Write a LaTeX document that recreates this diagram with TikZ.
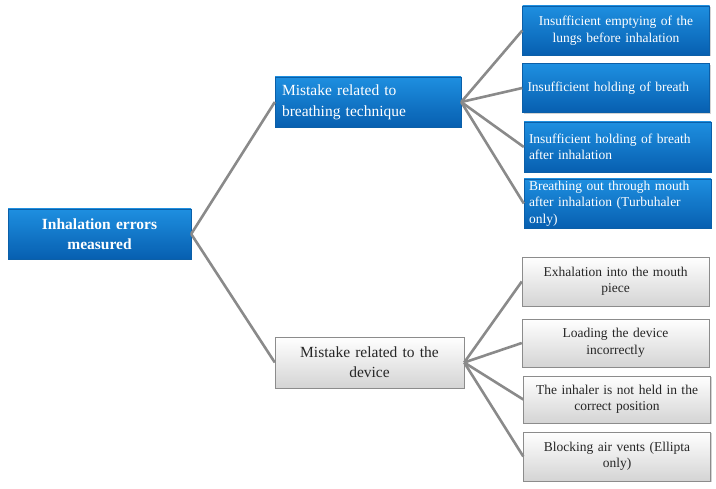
\documentclass[tikz,border=0pt]{standalone}
\usepackage{fontspec}
\setmainfont{Liberation Serif}
\usetikzlibrary{shadows}
\definecolor{bluetop}{HTML}{1E8FE0}
\definecolor{bluebot}{HTML}{075FB0}
\definecolor{blueedge}{HTML}{0B5FA8}
\definecolor{greybot}{HTML}{D4D4D4}
\definecolor{greyedge}{HTML}{8C8C8C}
\definecolor{linkgrey}{HTML}{8A8A8A}

\begin{document}
\begin{tikzpicture}[x=1pt,y=-1pt,
  box/.style={rectangle, inner ysep=2pt, inner xsep=5pt, minimum height=49pt,
    text width=177pt,
    drop shadow={shadow xshift=1pt,shadow yshift=-1.5pt,opacity=.35},
    font=\fontsize{13.5}{16.5}\selectfont},
  bluebox/.style={box, draw=blueedge, top color=bluetop, bottom color=bluebot, text=white},
  greybox/.style={box, draw=greyedge, top color=white, bottom color=greybot, text=black!85, align=center},
  link/.style={draw=linkgrey, line width=2.6pt}]
\useasboundingbox (0,0) rectangle (716,489);

% left and middle column
\node[bluebox, text width=173pt, minimum height=50pt, align=center,
  font=\fontsize{15.5}{19.5}\selectfont\bfseries] (root) at (99.5,234) {Inhalation errors\\measured};
\node[bluebox, text width=172pt, inner xsep=7pt, minimum height=50pt, align=left,
  font=\fontsize{15.5}{21}\selectfont] (tech) at (368,102) {Mistake related to\\breathing technique};
\node[greybox, text width=179pt, minimum height=51pt,
  font=\fontsize{15.5}{20}\selectfont] (dev) at (369.5,362.5) {Mistake related to the\\device};

% breathing technique
\node[bluebox, align=center] (t1) at (616,30.5) {Insufficient emptying of the\\lungs before inhalation};
\node[bluebox, align=left] (t2) at (616,88) {Insufficient holding of breath};
\node[bluebox, align=left, minimum height=50pt] (t3) at (617.5,147) {Insufficient holding of breath\\after inhalation};
\node[bluebox, align=left, inner ysep=0pt, font=\fontsize{13.5}{16.5}\selectfont] (t4) at (617.5,203.5) {Breathing out through mouth\\after inhalation (Turbuhaler\\only)};

% device
\node[greybox] (d1) at (615.5,281.5) {Exhalation into the mouth\\piece};
\node[greybox, minimum height=48pt] (d2) at (615.5,343) {Loading the device\\incorrectly};
\node[greybox, minimum height=47pt] (d3) at (617,399.5) {The inhaler is not held in the\\correct position};
\node[greybox] (d4) at (617,456.5) {Blocking air vents (Ellipta\\only)};

\draw[link] (root.east) -- (tech.west);
\draw[link] (root.east) -- (dev.west);
\foreach \n in {t1,t2,t3,t4}
  \draw[link] (tech.east) -- (\n.west);
\foreach \n in {d1,d2,d3,d4}
  \draw[link] (dev.east) -- (\n.west);
\end{tikzpicture}
\end{document}
